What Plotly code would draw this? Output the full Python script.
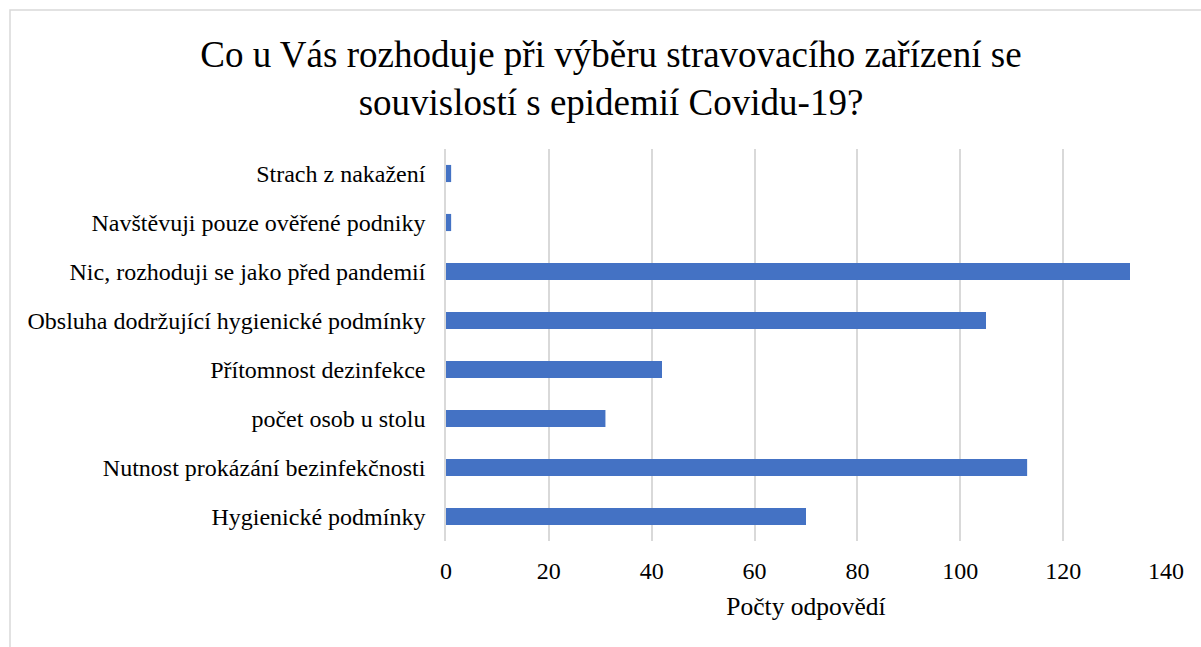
import plotly.graph_objects as go

categories = [
    "Hygienické podmínky",
    "Nutnost prokázání bezinfekčnosti",
    "počet osob u stolu",
    "Přítomnost dezinfekce",
    "Obsluha dodržující hygienické podmínky",
    "Nic, rozhoduji se jako před pandemií",
    "Navštěvuji pouze ověřené podniky",
    "Strach z nakažení",
]
values = [70, 113, 31, 42, 105, 133, 1, 1]
x_ticks = [0, 20, 40, 60, 80, 100, 120, 140]

title_text = "Co u Vás rozhoduje při výběru stravovacího zařízení se<br>souvislostí s epidemií Covidu-19?"
x_title = "Počty odpovědí"

FONT = "Liberation Serif"

fig = go.Figure(
    go.Bar(
        y=categories,
        x=values,
        orientation="h",
        marker=dict(color="#4472C4", line=dict(width=0)),
        width=0.35,
    )
)

W, H = 1201, 647
ml, mr, mt, mb = 446, 35, 149, 106
pw = W - ml - mr
ph = H - mt - mb

fig.update_layout(
    width=W,
    height=H,
    margin=dict(l=ml, r=mr, t=mt, b=mb),
    paper_bgcolor="white",
    plot_bgcolor="white",
    font=dict(family=FONT, color="#000000", size=24),
    title=dict(
        text=title_text,
        x=611 / W,
        xanchor="center",
        xref="container",
        y=1 - 67 / H,
        yanchor="middle",
        yref="container",
        font=dict(family=FONT, size=37, color="#000000"),
    ),
    showlegend=False,
    xaxis=dict(
        range=[0, 140],
        tickvals=x_ticks,
        showgrid=True,
        gridcolor="#d9d9d9",
        gridwidth=1.5,
        zeroline=False,
        showline=False,
        ticks="",
        ticklabelstandoff=13,
        tickfont=dict(family=FONT, size=24, color="#000000"),
        title=dict(text=x_title, font=dict(family=FONT, size=25.5, color="#000000"), standoff=14),
    ),
    yaxis=dict(
        categoryorder="array",
        categoryarray=categories,
        showgrid=False,
        zeroline=False,
        showline=True,
        linecolor="#d9d9d9",
        linewidth=1.5,
        ticks="",
        ticklabelstandoff=14,
        tickfont=dict(family=FONT, size=24, color="#000000"),
    ),
)

# outer chart border (only left/top visible in the crop)
fig.add_shape(
    type="rect",
    xref="paper",
    yref="paper",
    x0=(10 - ml) / pw,
    x1=(W + 20 - ml) / pw,
    y0=-(H + 20 - mt - ph) / ph,
    y1=(H - 10 - mb) / ph,
    line=dict(color="#d9d9d9", width=1.5),
    fillcolor="rgba(0,0,0,0)",
    layer="below",
)

fig.write_html(
    "out.html",
    config={"displayModeBar": False},
    post_script="document.body.style.margin='0';",
)
